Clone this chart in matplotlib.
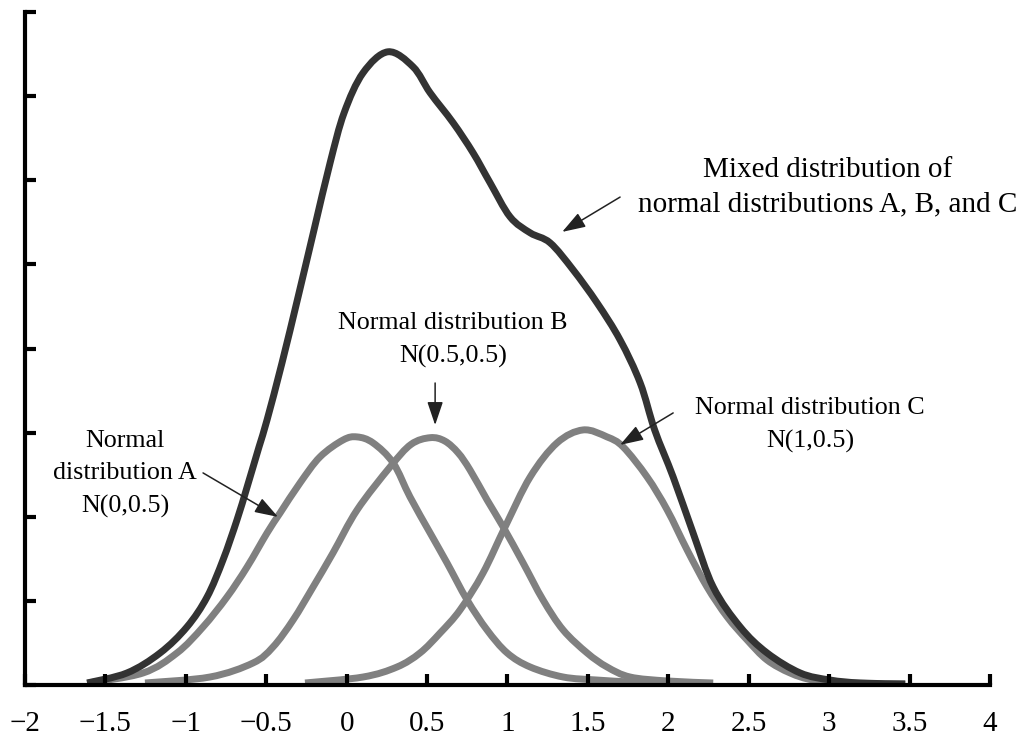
import numpy as np
import matplotlib.pyplot as plt
from matplotlib.path import Path
from matplotlib.patches import PathPatch

# Curves (x, y in axis units; y axis has no labels)
mix_x = [-1.614, -1.366, -1.160, -0.993, -0.868, -0.769, -0.682, -0.619, -0.545, -0.495,
         -0.402, -0.302, -0.203, -0.103, -0.016, 0.102, 0.257, 0.413, 0.519, 0.662,
         0.786, 0.892, 1.016, 1.141, 1.265, 1.408, 1.557, 1.700, 1.825, 1.915,
         2.030, 2.154, 2.279, 2.447, 2.614, 2.820, 3.006, 3.193, 3.473]
mix_y = [0.024, 0.143, 0.381, 0.690, 1.046, 1.486, 1.962, 2.354, 2.830, 3.151,
         3.829, 4.614, 5.410, 6.207, 6.801, 7.277, 7.527, 7.348, 7.039, 6.683,
         6.326, 5.969, 5.565, 5.375, 5.256, 4.935, 4.542, 4.102, 3.591, 3.032,
         2.473, 1.807, 1.165, 0.690, 0.381, 0.143, 0.059, 0.024, 0.012]

a_x = [-1.608, -1.266, -1.055, -0.893, -0.744, -0.619, -0.495, -0.414, -0.290, -0.166,
       -0.022, 0.065, 0.164, 0.289, 0.394, 0.519, 0.624, 0.749, 0.873, 0.998,
       1.141, 1.346, 1.557, 1.762, 1.930]
a_y = [0.024, 0.143, 0.381, 0.690, 1.046, 1.403, 1.807, 2.045, 2.402, 2.711,
       2.913, 2.949, 2.878, 2.640, 2.235, 1.807, 1.451, 1.011, 0.654, 0.381,
       0.214, 0.095, 0.059, 0.036, 0.024]

b_x = [-1.254, -0.850, -0.582, -0.458, -0.333, -0.209, -0.085, 0.065, 0.270, 0.400,
       0.520, 0.610, 0.693, 0.767, 0.873, 0.973, 1.097, 1.221, 1.346, 1.495, 1.619,
       1.762, 1.993, 2.279]
b_y = [0.024, 0.095, 0.262, 0.452, 0.773, 1.165, 1.570, 2.081, 2.592, 2.860,
       2.940, 2.900, 2.760, 2.556, 2.200, 1.879, 1.451, 1.011, 0.654, 0.381, 0.214,
       0.095, 0.048, 0.024]

c_x = [-0.259, 0.102, 0.313, 0.456, 0.581, 0.705, 0.848, 0.985, 1.141, 1.308,
       1.470, 1.619, 1.719, 1.868, 1.993, 2.117, 2.241, 2.366, 2.490, 2.614,
       2.757, 2.900, 3.112, 3.473]
c_y = [0.024, 0.095, 0.214, 0.381, 0.618, 0.892, 1.332, 1.879, 2.473, 2.878,
       3.032, 2.949, 2.830, 2.473, 2.081, 1.605, 1.165, 0.809, 0.535, 0.297,
       0.143, 0.059, 0.024, 0.012]

x_ticks = [-2, -1.5, -1, -0.5, 0, 0.5, 1, 1.5, 2, 2.5, 3, 3.5, 4]
x_labels = ['\u22122', '\u22121.5', '\u22121', '\u22120.5', '0', '0.5', '1',
            '1.5', '2', '2.5', '3', '3.5', '4']

dark = '#333333'
gray = '#808080'
lw = 5


def smooth_line(ax, xs, ys, color):
    # smoothed line like a spreadsheet chart: cubic Bezier through the points
    p = np.column_stack([xs, ys])
    verts = [p[0]]
    codes = [Path.MOVETO]
    n = len(p)
    for i in range(n - 1):
        p0 = p[i - 1] if i > 0 else p[i]
        p3 = p[i + 2] if i + 2 < n else p[i + 1]
        c1 = p[i] + (p[i + 1] - p0) / 6
        c2 = p[i + 1] - (p3 - p[i]) / 6
        verts += [c1, c2, p[i + 1]]
        codes += [Path.CURVE4] * 3
    patch = PathPatch(Path(verts, codes), facecolor='none', edgecolor=color,
                      lw=lw, joinstyle='round', capstyle='butt')
    ax.add_patch(patch)


fig = plt.figure(figsize=(10.3, 7.4), dpi=100)
ax = fig.add_axes([25 / 1030, 55 / 740, 965 / 1030, 673 / 740])

for xs, ys in [(a_x, a_y), (b_x, b_y), (c_x, c_y)]:
    smooth_line(ax, xs, ys, gray)
smooth_line(ax, mix_x, mix_y, dark)

ax.set_xlim(-2, 4)
ax.set_ylim(0, 8)
ax.set_xticks(x_ticks)
ax.set_xticklabels(x_labels, family='Liberation Serif', fontsize=21)
ax.set_yticks(np.arange(0, 9))
ax.set_yticklabels([])

for s in ['top', 'right']:
    ax.spines[s].set_visible(False)
for s in ['left', 'bottom']:
    ax.spines[s].set_linewidth(3)
    ax.spines[s].set_color('black')
ax.tick_params(direction='in', length=8, width=3, pad=19)
ax.tick_params(axis='y', pad=2)

tfont = dict(family='Liberation Serif', fontsize=18.7, ha='center', va='center',
             linespacing=1.62)
arrow = dict(arrowstyle='-|>,head_length=0.65,head_width=0.22', color='#222222',
             lw=1.1, mutation_scale=22, shrinkA=0, shrinkB=0)

ax.text(2.988, 5.92, 'Mixed distribution of\nnormal distributions A, B, and C',
        **dict(tfont, fontsize=21, linespacing=1.4))
ax.annotate('', xy=(1.340, 5.386), xytext=(1.700, 5.80), arrowprops=arrow)

ax.text(0.662, 4.096, 'Normal distribution B\nN(0.5,0.5)', **tfont)
ax.annotate('', xy=(0.550, 3.09), xytext=(0.550, 3.59), arrowprops=arrow)

ax.text(2.882, 3.086, 'Normal distribution C\nN(1,0.5)', **tfont)
ax.annotate('', xy=(1.700, 2.854), xytext=(2.030, 3.234), arrowprops=arrow)

ax.text(-1.378, 2.509, 'Normal\ndistribution A\nN(0,0.5)', **tfont)
ax.annotate('', xy=(-0.427, 1.998), xytext=(-0.893, 2.521), arrowprops=arrow)

fig.savefig('out.png', dpi=100)
